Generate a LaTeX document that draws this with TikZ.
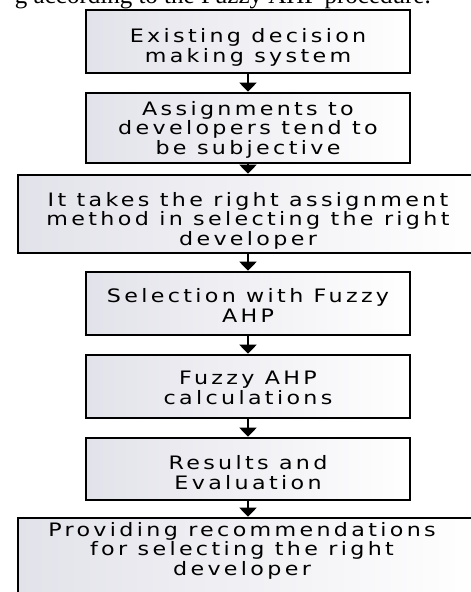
\documentclass[tikz,border=0pt]{standalone}
\usepackage{fontspec}
\setmainfont{Liberation Serif}
\newfontfamily\boxfont[LetterSpace=18,FakeStretch=1.2]{DejaVu Sans}
\usetikzlibrary{arrows.meta}
\definecolor{boxgray}{HTML}{E2E2EA}
\tikzset{
  box/.style={draw=black, line width=2.6pt, left color=boxgray, right color=white,
    inner sep=0pt},
  boxtext/.style={inner sep=0pt, align=center, font=\boxfont\fontsize{18.5}{19.5}\selectfont},
  flow/.style={line width=2pt, -{Triangle[length=9pt,width=17pt]}}
}
\begin{document}
\begin{tikzpicture}[x=1pt,y=1pt]
\useasboundingbox (0,0) rectangle (471,-592);
\node[anchor=base east, inner sep=0pt, font=\fontsize{25}{30}\selectfont] (cap) at (431,-3) {g according to the Fuzzy AHP procedure.};
\node[box, minimum width=324pt, minimum height=63pt] (b1) at (248,-41.5) {};
\node[box, minimum width=324pt, minimum height=70pt] (b2) at (248,-128) {};
\node[box, minimum width=460pt, minimum height=78pt] (b3) at (248,-214) {};
\node[box, minimum width=324pt, minimum height=63pt] (b4) at (248,-303.5) {};
\node[box, minimum width=324pt, minimum height=63pt] (b5) at (248,-386.5) {};
\node[box, minimum width=324pt, minimum height=62pt] (b6) at (248,-469) {};
\node[box, minimum width=460pt, minimum height=92pt] (b7) at (248,-564) {};
\node[boxtext] (t1) at (248,-47.2) {Existing decision\\making system};
\node[boxtext] (t2) at (248,-129.8) {Assignments to\\developers tend to\\be subjective};
\node[boxtext] (t3) at (248,-220.5) {It takes the right assignment\\method in selecting the right\\developer};
\node[boxtext] (t4) at (248,-305.5) {Selection with Fuzzy\\AHP};
\node[boxtext] (t5) at (248,-387.8) {Fuzzy AHP\\calculations};
\node[boxtext] (t6) at (248,-472.5) {Results and\\Evaluation};
\node[boxtext] (t7) at (242,-550.8) {Providing recommendations\\for selecting the right\\developer};
\draw[flow] (b1.south) -- (b2.north);
\draw[flow] (b2.south) -- (b3.north);
\draw[flow] (b3.south) -- (b4.north);
\draw[flow] (b4.south) -- (b5.north);
\draw[flow] (b5.south) -- (b6.north);
\draw[flow] (b6.south) -- (b7.north);
\end{tikzpicture}
\end{document}
